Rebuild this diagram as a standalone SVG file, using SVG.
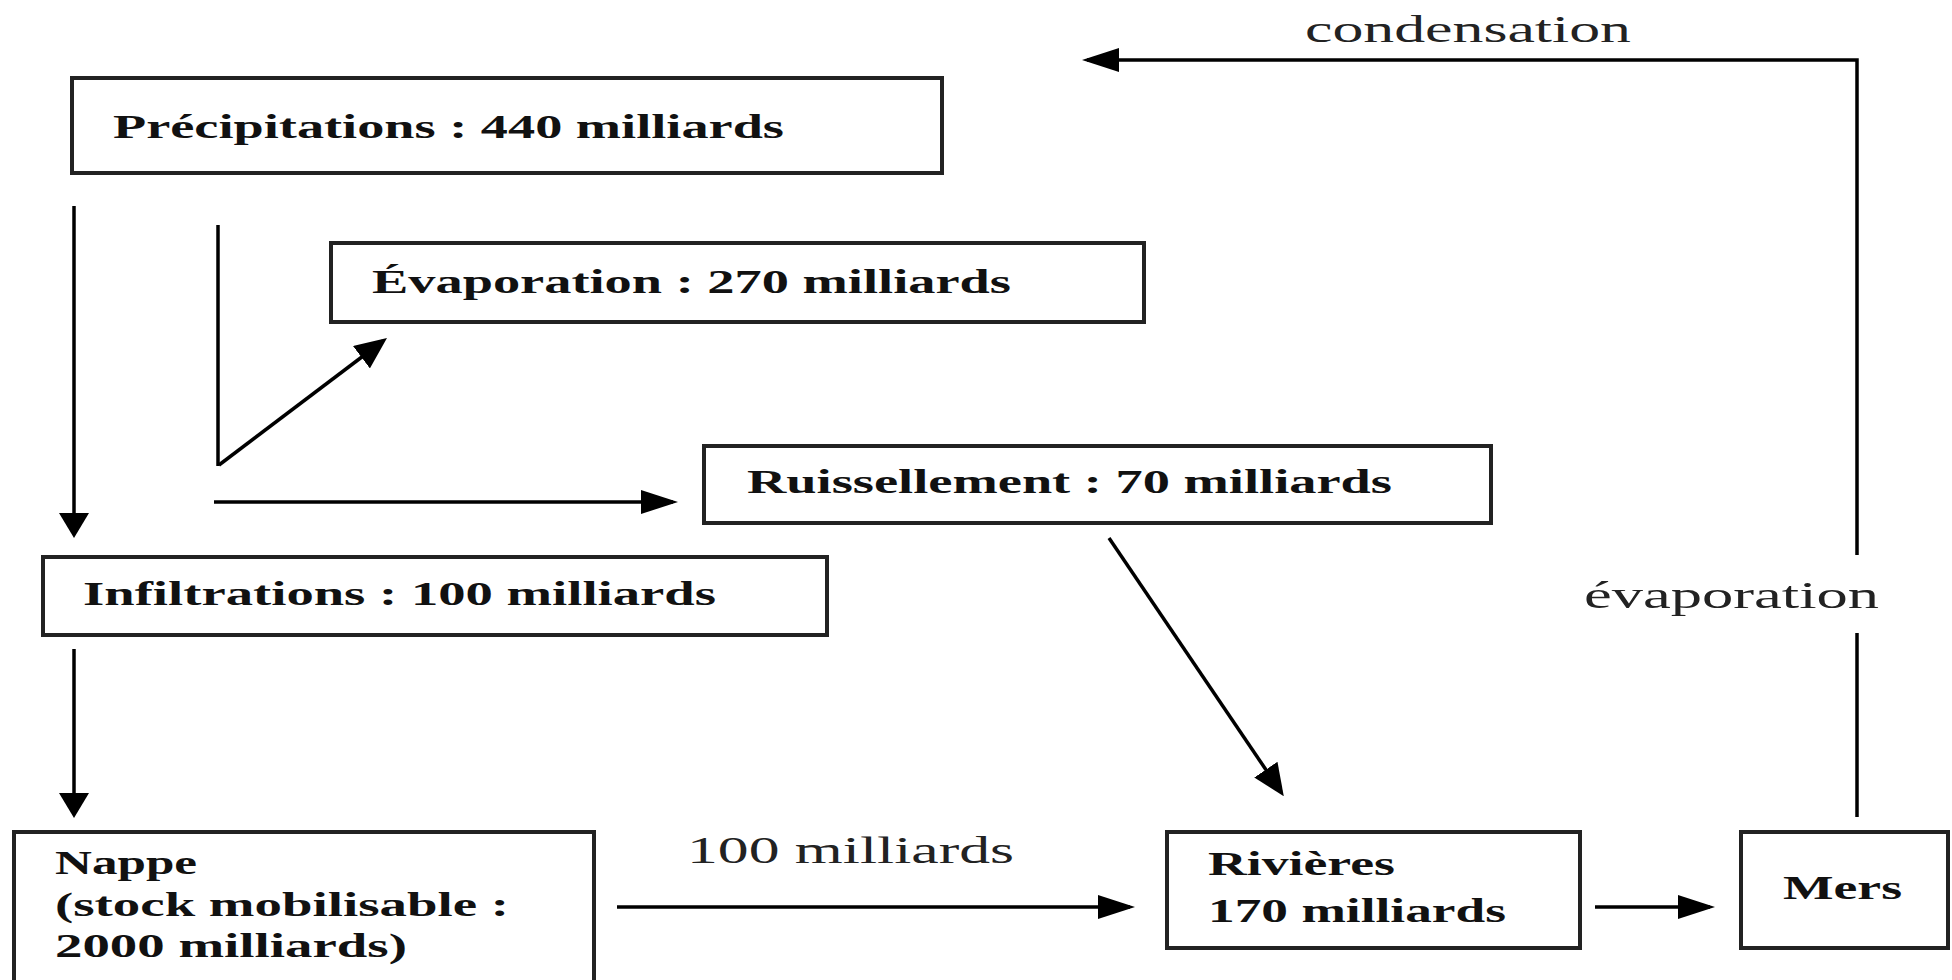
<svg xmlns="http://www.w3.org/2000/svg" width="1952" height="980" viewBox="0 0 1952 980">
<style>
.box{fill:#fff;stroke:#222;stroke-width:4}
.b{font-family:"Liberation Serif","Times New Roman",serif;font-weight:bold;font-size:34px;fill:#111}
.r{font-family:"Liberation Serif","Times New Roman",serif;font-size:37px;fill:#222}
.c{fill:none;stroke:#000;stroke-width:3.5}
</style>
<defs>
<marker id="ah" markerUnits="userSpaceOnUse" viewBox="0 0 37 24" refX="32" refY="12" markerWidth="37" markerHeight="24" orient="auto"><path d="M0,0 L37,12 L0,24 z" fill="#000"/></marker>
<marker id="av" markerUnits="userSpaceOnUse" viewBox="0 0 25 30" refX="20" refY="15" markerWidth="25" markerHeight="30" orient="auto"><path d="M0,0 L25,15 L0,30 z" fill="#000"/></marker>
<marker id="ad" markerUnits="userSpaceOnUse" viewBox="0 0 32 28" refX="27" refY="14" markerWidth="32" markerHeight="28" orient="auto"><path d="M0,0 L32,14 L0,28 z" fill="#000"/></marker>
</defs>
<rect width="1952" height="980" fill="#fff"/>
<g id="connectors">
<line class="c" x1="74" y1="206" x2="74" y2="533" marker-end="url(#av)"/>
<line class="c" x1="74" y1="649" x2="74" y2="813" marker-end="url(#av)"/>
<line class="c" x1="218" y1="225" x2="218" y2="466"/>
<line class="c" x1="219" y1="465" x2="383" y2="341" marker-end="url(#ad)"/>
<line class="c" x1="214" y1="502" x2="673" y2="502" marker-end="url(#ah)"/>
<line class="c" x1="1109" y1="538" x2="1281" y2="792" marker-end="url(#ad)"/>
<line class="c" x1="617" y1="907" x2="1130" y2="907" marker-end="url(#ah)"/>
<line class="c" x1="1595" y1="907" x2="1710" y2="907" marker-end="url(#ah)"/>
<polyline class="c" points="1857,817 1857,633"/>
<polyline class="c" points="1857,555 1857,60 1087,60" marker-end="url(#ah)"/>
<text class="r" x="1305" y="42" textLength="326" lengthAdjust="spacingAndGlyphs">condensation</text>
<text class="r" x="1584" y="608" textLength="295" lengthAdjust="spacingAndGlyphs">évaporation</text>
<text class="r" x="687" y="863" textLength="327" lengthAdjust="spacingAndGlyphs">100 milliards</text>
</g>
<g id="precipitations">
<rect class="box" x="72" y="78" width="870" height="95"/>
<text class="b" x="113" y="138" textLength="671" lengthAdjust="spacingAndGlyphs">Précipitations  : 440 milliards</text>
</g>
<g id="evaporation">
<rect class="box" x="331" y="243" width="813" height="79"/>
<text class="b" x="372" y="293" textLength="639" lengthAdjust="spacingAndGlyphs">Évaporation : 270 milliards</text>
</g>
<g id="ruissellement">
<rect class="box" x="704" y="446" width="787" height="77"/>
<text class="b" x="747" y="493" textLength="645" lengthAdjust="spacingAndGlyphs">Ruissellement : 70 milliards</text>
</g>
<g id="infiltrations">
<rect class="box" x="43" y="557" width="784" height="78"/>
<text class="b" x="83" y="605" textLength="633" lengthAdjust="spacingAndGlyphs">Infiltrations  : 100 milliards</text>
</g>
<g id="nappe">
<rect class="box" x="14" y="832" width="580" height="170"/>
<text class="b" x="55" y="874" textLength="142" lengthAdjust="spacingAndGlyphs">Nappe</text>
<text class="b" x="55" y="916" textLength="454" lengthAdjust="spacingAndGlyphs">(stock mobilisable  :</text>
<text class="b" x="55" y="957" textLength="352" lengthAdjust="spacingAndGlyphs">2000 milliards)</text>
</g>
<g id="rivieres">
<rect class="box" x="1167" y="832" width="413" height="116"/>
<text class="b" x="1208" y="875" textLength="187" lengthAdjust="spacingAndGlyphs">Rivières</text>
<text class="b" x="1208" y="922" textLength="298" lengthAdjust="spacingAndGlyphs">170 milliards</text>
</g>
<g id="mers">
<rect class="box" x="1741" y="832" width="207" height="116"/>
<text class="b" x="1783" y="899" textLength="119" lengthAdjust="spacingAndGlyphs">Mers</text>
</g>
</svg>
